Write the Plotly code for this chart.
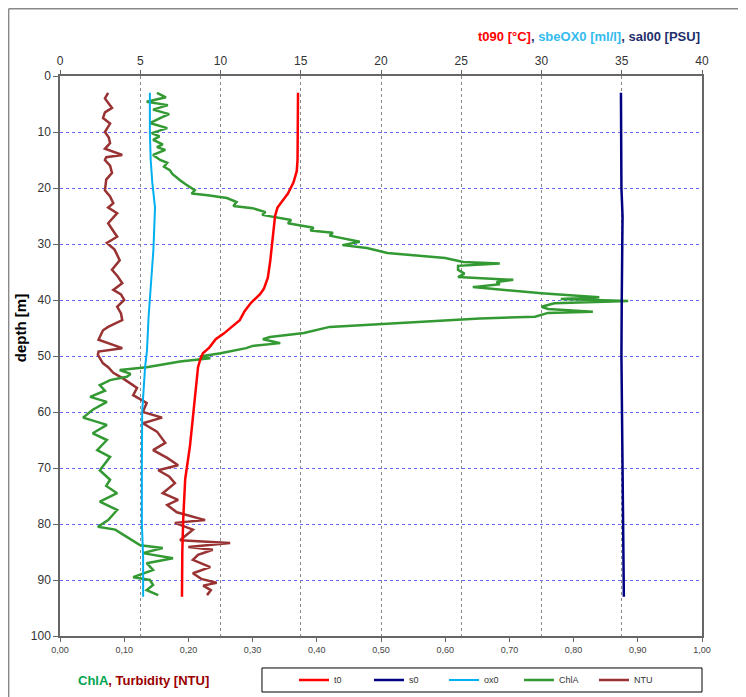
"""CTD profile: temperature, oxygen, salinity (top axis) and ChlA, turbidity (bottom axis) vs depth"""

import plotly.graph_objects as go

# temperature t090 [deg C]
t_depth = [3, 10, 15, 17, 19, 21, 22.5, 23.5, 25, 28, 30.5, 33, 36, 38, 39, 40.5, 42, 43.6,
           44.8, 46, 47, 48.5, 49.5, 50.5, 52, 55, 60, 66, 72, 76, 79, 85, 93]
temp = [14.83, 14.83, 14.8, 14.75, 14.55, 14.2, 13.8, 13.55, 13.4, 13.3, 13.2, 13.1, 12.95, 12.7,
        12.45, 11.9, 11.5, 11.2, 10.7, 10.2, 9.7, 9.3, 8.9, 8.75, 8.6, 8.5, 8.3, 8.1, 7.8, 7.72,
        7.68, 7.62, 7.6]

# salinity sal00 [PSU]
s_depth = [3, 10, 20, 25, 30, 40, 50, 60, 70, 80, 93]
sal = [34.95, 34.96, 34.98, 35.05, 35.02, 35.0, 34.98, 35.02, 35.05, 35.1, 35.13]

# oxygen sbeOX0 [ml/l]
ox_depth = [3, 10, 15, 19, 23.5, 27, 31, 35, 39, 43, 46, 49, 52, 56, 60, 70, 80, 86, 93]
ox = [5.6, 5.6, 5.65, 5.75, 5.92, 5.88, 5.82, 5.72, 5.6, 5.52, 5.47, 5.42, 5.3, 5.2, 5.12,
      5.1, 5.1, 5.18, 5.18]

# chlorophyll a (bottom axis)
chla_depth = [3, 3.8, 4.6, 5.2, 6, 6.8, 7.3, 8.4, 9.3, 10.2, 10.8, 11.4, 12.2, 12.7, 13.2, 14.1,
              15, 15.5, 16.2, 16.8, 17.5, 18, 18.6, 19.3, 20.4, 21.0, 21.3, 21.8, 22.5, 23.2,
              23.6, 24.3, 24.8, 25.7, 26.3, 27.1, 27.6, 28, 28.5, 29.6, 30.2, 30.7, 31.6, 32.5,
              33.2, 33.5, 33.9, 34.6, 35.3, 35.9, 36.4, 36.8, 37.2, 37.7, 38.2, 38.8, 39.2, 39.5,
              39.8, 40.2, 40.6, 41.2, 41.6, 42.1, 42.3, 43.0, 43.3, 44.1, 44.8, 45.9, 46.6, 47.0,
              47.7, 48.2, 48.6, 49.5, 49.8, 50.1, 50.4, 51, 51.5, 52, 52.5, 53.2, 53.7, 54.3,
              55.2, 56.2, 57.3, 58.2, 59.6, 61, 62.3, 63.8, 65, 66.8, 68, 69.2, 70.4, 72.1, 73.2,
              74.5, 76, 77.5, 79.3, 80.5, 81, 82.3, 83.8, 84.3, 85.2, 86.1, 87, 88.2, 89.5, 90,
              90.9, 91.8, 92.7]
chla = [0.151, 0.165, 0.135, 0.168, 0.145, 0.17, 0.16, 0.14, 0.167, 0.143, 0.155, 0.145, 0.16,
        0.151, 0.164, 0.145, 0.156, 0.167, 0.162, 0.171, 0.175, 0.18, 0.187, 0.195, 0.21, 0.205,
        0.23, 0.26, 0.275, 0.27, 0.30, 0.32, 0.315, 0.36, 0.355, 0.395, 0.39, 0.425, 0.42, 0.467,
        0.44, 0.478, 0.51, 0.60, 0.628, 0.685, 0.62, 0.62, 0.63, 0.62, 0.706, 0.68, 0.685, 0.643,
        0.69, 0.75, 0.80, 0.84, 0.78, 0.885, 0.77, 0.75, 0.76, 0.83, 0.76, 0.74, 0.654, 0.53,
        0.42, 0.38, 0.327, 0.316, 0.343, 0.30, 0.29, 0.25, 0.234, 0.218, 0.234, 0.187, 0.16,
        0.135, 0.093, 0.11, 0.104, 0.078, 0.062, 0.07, 0.047, 0.073, 0.051, 0.036, 0.073, 0.051,
        0.073, 0.058, 0.078, 0.07, 0.062, 0.078, 0.072, 0.089, 0.062, 0.089, 0.075, 0.059, 0.086,
        0.104, 0.125, 0.16, 0.129, 0.176, 0.135, 0.145, 0.114, 0.14, 0.145, 0.135, 0.153]

# turbidity [NTU] (bottom axis)
ntu_depth = [3, 4, 5.7, 6.5, 7.5, 8.5, 10, 11, 12, 13, 14.1, 14.5, 15, 16, 17.3, 18.5, 20.4, 21.5,
             22.7, 23.5, 24.5, 26.3, 27.5, 28.7, 29.8, 31, 32.9, 34.6, 35.8, 37, 38.2, 39, 40,
             41.2, 42.4, 43.6, 44.8, 45.4, 46.6, 47.1, 48.6, 49.2, 49.8, 51.3, 52, 53, 54, 55.7,
             57, 58.4, 60, 61, 62, 63.5, 65.5, 66.8, 68.2, 69.5, 70.4, 71.5, 72.7, 74.5, 75.7,
             76.6, 77.9, 79.3, 79.8, 81, 82.9, 83.4, 84.1, 84.6, 85.5, 86.4, 87.7, 88.8, 89.8,
             90.5, 91, 91.8, 92.7]
ntu = [0.075, 0.07, 0.081, 0.07, 0.067, 0.078, 0.07, 0.076, 0.078, 0.07, 0.097, 0.072, 0.07,
       0.078, 0.081, 0.072, 0.07, 0.078, 0.083, 0.075, 0.089, 0.075, 0.082, 0.089, 0.073, 0.085,
       0.093, 0.081, 0.09, 0.097, 0.083, 0.095, 0.1, 0.089, 0.095, 0.097, 0.075, 0.067, 0.062,
       0.06, 0.097, 0.06, 0.059, 0.067, 0.075, 0.083, 0.098, 0.12, 0.114, 0.135, 0.129, 0.159,
       0.129, 0.151, 0.164, 0.145, 0.167, 0.184, 0.153, 0.17, 0.179, 0.16, 0.184, 0.167, 0.182,
       0.226, 0.179, 0.207, 0.187, 0.265, 0.2, 0.238, 0.215, 0.207, 0.234, 0.207, 0.22, 0.244,
       0.223, 0.235, 0.229]

FONT = "Liberation Sans"

fig = go.Figure()

# turbidity and chlorophyll first so the CTD lines sit on top
fig.add_trace(go.Scatter(x=ntu, y=ntu_depth, mode="lines", name="NTU", legendrank=5,
                         line=dict(color="#993333", width=2.5)))
fig.add_trace(go.Scatter(x=chla, y=chla_depth, mode="lines", name="ChlA", legendrank=4,
                         line=dict(color="#339933", width=2.5)))
fig.add_trace(go.Scatter(x=ox, y=ox_depth, mode="lines", name="ox0", legendrank=3, xaxis="x2",
                         line=dict(color="#00B0F0", width=2)))
fig.add_trace(go.Scatter(x=sal, y=s_depth, mode="lines", name="s0", legendrank=2, xaxis="x2",
                         line=dict(color="#000080", width=2.5)))
fig.add_trace(go.Scatter(x=temp, y=t_depth, mode="lines", name="t0", legendrank=1, xaxis="x2",
                         line=dict(color="#FF0000", width=2.5)))

# frame of the original figure (top and left edges)
frame = dict(type="line", xref="paper", yref="paper", line=dict(color="#888888", width=1.5))
fig.add_shape(frame, x0=-0.08, x1=1.07, y0=1.12, y1=1.12)
fig.add_shape(frame, x0=-0.08, x1=-0.08, y0=-0.11, y1=1.12)
# legend box
fig.add_shape(type="rect", xref="paper", yref="paper", x0=0.3146, x1=1.0, y0=-0.1, y1=-0.0571,
              line=dict(color="#000000", width=1), fillcolor="white", layer="below")

fig.add_annotation(
    text="<span style='color:#FF0000'>t090 [°C]</span>, "
         "<span style='color:#33BBEE'>sbeOX0 [ml/l]</span>, "
         "<span style='color:#1F2F6B'>sal00 [PSU]</span>",
    xref="paper", yref="paper", x=1.0, y=1.0714, xanchor="right", yanchor="middle",
    showarrow=False, font=dict(family=FONT, size=13, color="#1F2F6B", weight="bold"))
fig.add_annotation(
    text="<span style='color:#00A550'>ChlA</span>, <span style='color:#990000'>Turbidity [NTU]</span>",
    xref="paper", yref="paper", x=0.025, y=-0.08, xanchor="left", yanchor="middle",
    showarrow=False, font=dict(family=FONT, size=13, color="#990000", weight="bold"))
fig.add_annotation(
    text="<b>depth [m]</b>", textangle=-90,
    xref="paper", yref="paper", x=-0.062, y=0.55, xanchor="center", yanchor="middle",
    showarrow=False, font=dict(family=FONT, size=15, color="#000000"))

# the page body adds 8 px on the left and top, so the figure is 8 px smaller
fig.update_layout(
    width=738, height=689,
    margin=dict(l=52, r=44, t=68, b=61, autoexpand=False),
    paper_bgcolor="white", plot_bgcolor="white",
    separators=", ",
    font=dict(family=FONT, color="#333333"),
    showlegend=True,
    legend=dict(orientation="h", xref="container", yref="container",
                x=0.3875, y=0.0247, xanchor="left", yanchor="middle",
                borderwidth=0, bgcolor="rgba(0,0,0,0)",
                entrywidth=30, entrywidthmode="pixels",
                font=dict(family=FONT, size=9, color="#333333")),
    xaxis=dict(range=[0, 1], dtick=0.1, tick0=0, tickformat=".2f", showgrid=False,
               zeroline=False, showline=True, linecolor="#666666", linewidth=1.5,
               ticks="outside", ticklen=4, tickcolor="#666666",
               tickfont=dict(family=FONT, size=9, color="#444444")),
    xaxis2=dict(range=[0, 40], dtick=5, tick0=0, overlaying="x", side="top",
                showgrid=True, gridcolor="#888888", griddash="dot", gridwidth=1,
                zeroline=False, showline=True, linecolor="#666666", linewidth=1.5,
                ticks="outside", ticklen=4, tickcolor="#666666",
                tickfont=dict(family=FONT, size=12, color="#333333")),
    yaxis=dict(range=[100, 0], dtick=10, tick0=0, showgrid=True, gridcolor="#6666FF",
               griddash="dot", gridwidth=1, zeroline=False, showline=True, mirror=True,
               linecolor="#666666", linewidth=1.5, ticks="outside", ticklen=5,
               tickcolor="#666666", tickfont=dict(family=FONT, size=12, color="#333333")),
)

fig.write_html("out.html")
